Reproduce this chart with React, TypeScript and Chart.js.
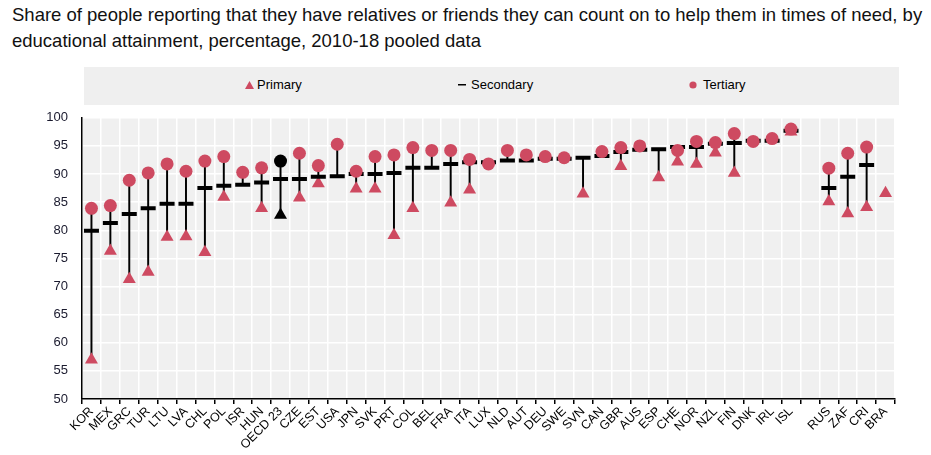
import { useEffect, useRef } from "react";
import { Chart, registerables } from "chart.js";

Chart.register(...registerables);

const countries = [
  "KOR", "MEX", "GRC", "TUR", "LTU", "LVA", "CHL", "POL", "ISR", "HUN", "OECD 23",
  "CZE", "EST", "USA", "JPN", "SVK", "PRT", "COL", "BEL", "FRA", "ITA", "LUX",
  "NLD", "AUT", "DEU", "SWE", "SVN", "CAN", "GBR", "AUS", "ESP", "CHE", "NOR",
  "NZL", "FIN", "DNK", "IRL", "ISL", "", "RUS", "ZAF", "CRI", "BRA",
];

const primary = [
  57.0, 76.3, 71.3, 72.6, 78.8, 78.9, 76.1, 85.9, null, 83.9, 82.7,
  85.8, 88.3, null, 87.4, 87.4, 79.1, 83.9, null, 84.9, 87.2, null,
  null, null, null, null, 86.5, null, 91.4, null, 89.4, 92.2, 91.8,
  93.8, 90.2, null, null, 97.5, null, 85.1, 83.0, 84.1, 86.6,
];

const secondary = [
  79.9, 81.3, 82.9, 83.9, 84.7, 84.7, 87.5, 87.9, 88.1, 88.5, 89.1,
  89.1, 89.5, 89.6, 90.0, 90.0, 90.2, 91.1, 91.1, 91.8, 92.1, 92.1,
  92.4, 92.4, 92.7, 92.7, 92.9, 93.2, 93.9, 94.3, 94.4, 94.8, 94.8,
  95.4, 95.5, 95.9, 95.9, 97.7, null, 87.5, 89.5, 91.6, null,
];

const tertiary = [
  83.9, 84.4, 88.9, 90.2, 91.8, 90.5, 92.3, 93.1, 90.3, 91.1, 92.3,
  93.7, 91.5, 95.3, 90.5, 93.1, 93.4, 94.7, 94.2, 94.2, 92.6, 91.8,
  94.2, 93.4, 93.1, 92.9, null, 94.0, 94.7, 95.0, null, 94.2, 95.8,
  95.6, 97.2, 95.8, 96.3, 98.0, null, 91.05, 93.7, 94.8, null,
];

const yTicks = [50, 55, 60, 65, 70, 75, 80, 85, 90, 95, 100];

const RED = "#CE4A61";
const FONT = "'Liberation Sans', Arial, sans-serif";

const plotBg = {
  id: "plotBg",
  beforeDraw(chart: any) {
    const { ctx, chartArea } = chart;
    ctx.save();
    ctx.fillStyle = "#F0F0F0";
    ctx.fillRect(chartArea.left, chartArea.top, chartArea.right - chartArea.left, chartArea.bottom - chartArea.top);
    ctx.restore();
  },
};

const App = () => {
  const canvasRef = useRef<HTMLCanvasElement>(null);

  useEffect(() => {
    if (!canvasRef.current) return;

    const ranges = countries.map((_, i) => {
      const vals = [primary[i], secondary[i], tertiary[i]].filter((v) => v !== null) as number[];
      if (vals.length < 2) return null;
      return [Math.min(...vals), Math.max(...vals)];
    });
    const markerColor = countries.map((c) => (c === "OECD 23" ? "#000000" : RED));

    const chart = new Chart(canvasRef.current, {
      type: "bar",
      data: {
        labels: countries,
        datasets: [
          {
            type: "bar",
            label: "range",
            data: ranges as any,
            backgroundColor: "#000000",
            barThickness: 1.3,
            order: 4,
          },
          {
            type: "line",
            label: "Primary",
            data: primary,
            showLine: false,
            pointStyle: "triangle",
            pointRadius: 7.5,
            pointBackgroundColor: markerColor,
            pointBorderColor: markerColor,
            pointBorderWidth: 0,
            order: 3,
          },
          {
            type: "line",
            label: "Secondary",
            data: secondary,
            showLine: false,
            pointStyle: "line",
            pointRadius: 7.5,
            pointBorderColor: "#000000",
            pointBorderWidth: 4,
            order: 2,
          },
          {
            type: "line",
            label: "Tertiary",
            data: tertiary,
            showLine: false,
            pointStyle: "circle",
            pointRadius: 6.5,
            pointBackgroundColor: markerColor,
            pointBorderColor: markerColor,
            pointBorderWidth: 0,
            order: 1,
          },
        ],
      },
      options: {
        animation: false,
        responsive: true,
        maintainAspectRatio: false,
        layout: { padding: { top: 3, right: 36, left: 0, bottom: 0 } },
        plugins: {
          legend: { display: false },
          tooltip: { enabled: false },
        },
        scales: {
          x: {
            offset: true,
            grid: {
              offset: true,
              color: "#FFFFFF",
              lineWidth: 1.5,
              tickColor: "#000000",
              tickLength: 5,
            },
            border: { color: "#000000", width: 1.5 },
            ticks: {
              autoSkip: false,
              maxRotation: 45,
              minRotation: 45,
              padding: 0,
              color: "#000000",
              font: { family: FONT, size: 12.5 },
            },
            afterFit(scale: any) {
              scale.height = 56;
            },
          },
          y: {
            min: 50,
            max: 100,
            afterBuildTicks(scale: any) {
              scale.ticks = yTicks.map((v) => ({ value: v }));
            },
            grid: { color: "#FFFFFF", lineWidth: 1.5, drawTicks: false },
            border: { color: "#000000", width: 1.5 },
            ticks: {
              padding: 14,
              color: "#1a1a2e",
              font: { family: FONT, size: 13 },
            },
            afterFit(scale: any) {
              scale.width = 82;
            },
          },
        },
      },
      plugins: [plotBg],
    });

    return () => {
      chart.destroy();
    };
  }, []);

  const legendText = { position: "absolute" as const, top: 77, fontSize: 13, fontFamily: FONT, color: "#000", lineHeight: "16px" };

  return (
    <div style={{ position: "absolute", left: 0, top: 0, width: 931, height: 455, background: "#fff", fontFamily: FONT }}>
      <div style={{ position: "absolute", left: 12, top: 2, fontSize: 18.5, lineHeight: "26px", color: "#111", width: 925, whiteSpace: "nowrap" }}>
        Share of people reporting that they have relatives or friends they can count on to help them in times of need, by
        <br />
        educational attainment, percentage, 2010-18 pooled data
      </div>
      <div style={{ position: "absolute", left: 84, top: 67, width: 815, height: 38, background: "#EFEFEF" }} />
      <svg style={{ position: "absolute", left: 245, top: 81 }} width={9} height={8}>
        <polygon points="4.5,0 9,8 0,8" fill={RED} />
      </svg>
      <div style={{ ...legendText, left: 257 }}>Primary</div>
      <svg style={{ position: "absolute", left: 458, top: 84 }} width={8} height={2}>
        <rect x={0} y={0} width={8} height={1.5} fill="#000" />
      </svg>
      <div style={{ ...legendText, left: 471 }}>Secondary</div>
      <svg style={{ position: "absolute", left: 689, top: 81 }} width={8} height={8}>
        <circle cx={4} cy={4} r={3.6} fill={RED} />
      </svg>
      <div style={{ ...legendText, left: 703 }}>Tertiary</div>
      <div style={{ position: "absolute", left: 0, top: 96, width: 931, height: 359 }}>
        <canvas ref={canvasRef} />
      </div>
    </div>
  );
};

export default App;
